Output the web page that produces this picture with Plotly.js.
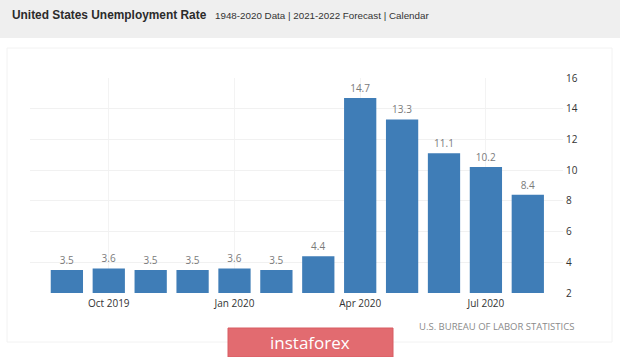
<!DOCTYPE html>
<html>
<head>
<meta charset="utf-8">
<script src="https://cdn.plot.ly/plotly-3.0.1.min.js"></script>
<style>html,body{margin:0;padding:0;background:#fff;}#chart{width:620px;height:357px;}</style>
</head>
<body>
<div id="chart"></div>
<script>
const months = ["Sep 2019","Oct 2019","Nov 2019","Dec 2019","Jan 2020","Feb 2020","Mar 2020","Apr 2020","May 2020","Jun 2020","Jul 2020","Aug 2020"];
const rates = [3.5, 3.6, 3.5, 3.5, 3.6, 3.5, 4.4, 14.7, 13.3, 11.1, 10.2, 8.4];
const xTickLabels = ["Oct 2019","Jan 2020","Apr 2020","Jul 2020"];
const yTicks = [2, 4, 6, 8, 10, 12, 14, 16];

const W = 620, H = 357;
const trace = {
  type: 'bar',
  x: months,
  y: rates,
  marker: {color: '#3f7db7'},
  width: 0.77,
  text: rates.map(v => v.toFixed(1)),
  textposition: 'outside',
  cliponaxis: false,
  textfont: {family: 'Open Sans, sans-serif', size: 10, color: '#7a7a7a'},
  hoverinfo: 'none'
};

const layout = {
  width: W, height: H,
  margin: {l: 30, r: 57, t: 78, b: 64},
  paper_bgcolor: '#ffffff',
  plot_bgcolor: 'rgba(0,0,0,0)',
  showlegend: false,
  bargap: 0.23,
  xaxis: {
    type: 'category',
    range: [-0.88, 11.84],
    tickvals: xTickLabels,
    ticktext: xTickLabels,
    showgrid: true,
    gridcolor: '#f3f3f3',
    ticks: '',
    showline: false,
    zeroline: false,
    ticklabelstandoff: 3,
    tickfont: {family: 'Open Sans, sans-serif', size: 10, color: '#333'},
    fixedrange: true
  },
  yaxis: {
    side: 'right',
    range: [2, 16],
    tickvals: yTicks,
    showgrid: true,
    gridcolor: '#f1f1f1',
    zeroline: false,
    showline: false,
    ticks: '',
    ticklabelstandoff: 2,
    tickfont: {family: 'Open Sans, sans-serif', size: 10, color: '#333'},
    fixedrange: true
  },
  shapes: [
    {type: 'rect', xref: 'paper', yref: 'paper', layer: 'below',
     x0: -30/ (W-87), x1: (W-30)/(W-87), y0: (293-38)/(H-142) , y1: (293+5)/(H-142),
     fillcolor: '#efefef', line: {width: 0}},
    {type: 'rect', xref: 'paper', yref: 'paper', layer: 'below',
     x0: (7-30)/(W-87), x1: (612-30)/(W-87), y0: -(342-293)/(H-142), y1: (293-48)/(H-142),
     fillcolor: 'rgba(0,0,0,0)', line: {width: 1, color: '#f2f2f2'}},
    {type: 'rect', xref: 'paper', yref: 'paper', layer: 'above',
     x0: (228-30)/(W-87), x1: (393-30)/(W-87), y0: -(357-293)/(H-142), y1: -(328-293)/(H-142),
     fillcolor: '#e26b70', line: {width: 1, color: '#d85c62'}}
  ],
  annotations: [
    {xref: 'paper', yref: 'paper', x: (10-30)/(W-87), y: (293-15)/(H-142), xanchor: 'left', yanchor: 'middle',
     text: '<b>United States Unemployment Rate</b>', showarrow: false,
     font: {family: 'Liberation Sans, Arial, sans-serif', size: 11.9, color: '#2b2b2b'}},
    {xref: 'paper', yref: 'paper', x: (213-30)/(W-87), y: (293-15)/(H-142), xanchor: 'left', yanchor: 'middle',
     text: '1948-2020 Data | 2021-2022 Forecast | Calendar', showarrow: false,
     font: {family: 'Liberation Sans, Arial, sans-serif', size: 9.8, color: '#333'}},
    {xref: 'paper', yref: 'paper', x: (576-30)/(W-87), y: -(326-293)/(H-142), xanchor: 'right', yanchor: 'middle',
     text: 'U.S. BUREAU OF LABOR STATISTICS', showarrow: false,
     font: {family: 'Open Sans, sans-serif', size: 9.5, color: '#8a8a8a'}},
    {xref: 'paper', yref: 'paper', x: (310-30)/(W-87), y: -(342-293)/(H-142), xanchor: 'center', yanchor: 'middle',
     text: 'instaforex', showarrow: false,
     font: {family: 'Open Sans, sans-serif', size: 17, color: '#ffffff'}}
  ]
};

Plotly.newPlot('chart', [trace], layout, {displayModeBar: false, staticPlot: true});
</script>
</body>
</html>
